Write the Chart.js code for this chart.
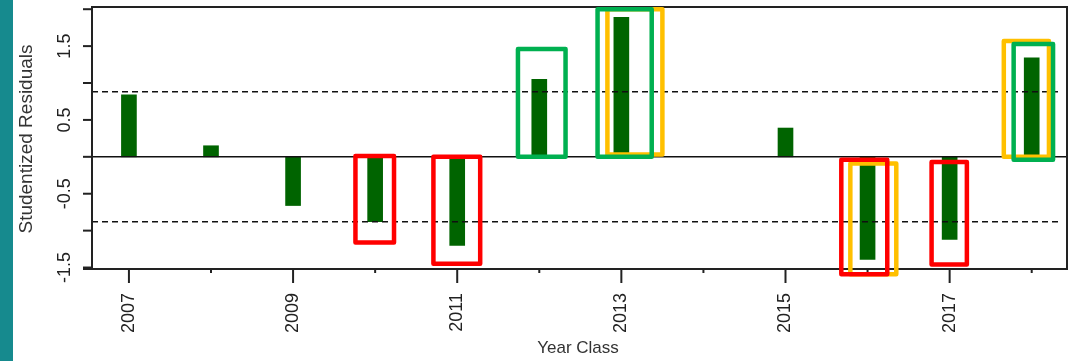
<!DOCTYPE html>
<html>
<head>
<meta charset="utf-8">
<script src="https://cdn.jsdelivr.net/npm/chart.js@4/dist/chart.umd.min.js"></script>
<style>
  body { margin: 0; background: #fff; }
  #strip { position: absolute; left: 0; top: 0; width: 13px; height: 361px; background: #168a8e; }
  canvas { position: absolute; left: 0; top: 0; }
</style>
</head>
<body>
<div id="strip"></div>
<canvas id="chart" width="1076" height="361"></canvas>
<script>
// year classes and studentized residuals
const years = [2007, 2008, 2009, 2010, 2011, 2012, 2013, 2014, 2015, 2016, 2017, 2018];
const residuals = [0.84, 0.15, -0.66, -0.88, -1.20, 1.05, 1.89, null, 0.39, -1.39, -1.12, 1.34];

// y axis tick marks and which of them get a label
const yTicks = [-1.5, -1, -0.5, 0, 0.5, 1, 1.5, 2];
const yLabels = [-1.5, -0.5, 0.5, 1.5];
const xLabels = [2007, 2009, 2011, 2013, 2015, 2017];

// dashed reference lines
const limits = [0.88, -0.88];

// highlight boxes: [xFrom, xTo, yTop, yBottom] in data units
const orangeBoxes = [[2012.83, 2013.5, 2.0, 0.03], [2015.79, 2016.35, -0.09, -1.59], [2017.66, 2018.21, 1.57, 0]];
const greenBoxes = [[2011.74, 2012.32, 1.46, 0], [2012.71, 2013.37, 2.0, 0], [2017.78, 2018.26, 1.53, -0.04]];
const redBoxes = [[2009.76, 2010.23, 0.01, -1.16], [2010.71, 2011.28, 0, -1.45], [2015.68, 2016.24, -0.04, -1.59], [2016.78, 2017.21, -0.07, -1.46]];

const axisPlugin = {
  id: 'axisPlugin',
  afterDatasetsDraw(chart) {
    const { ctx, chartArea: a, scales: { x, y } } = chart;
    ctx.save();

    // zero line
    ctx.strokeStyle = '#111';
    ctx.lineWidth = 1.5;
    ctx.beginPath();
    ctx.moveTo(a.left, y.getPixelForValue(0));
    ctx.lineTo(a.right, y.getPixelForValue(0));
    ctx.stroke();

    // dashed limits
    ctx.setLineDash([6, 4]);
    limits.forEach(v => {
      const py = y.getPixelForValue(v);
      ctx.beginPath();
      ctx.moveTo(a.left, py);
      ctx.lineTo(a.right - 8, py);
      ctx.stroke();
    });
    ctx.setLineDash([]);

    // frame
    ctx.strokeStyle = '#222';
    ctx.lineWidth = 2;
    ctx.beginPath();
    ctx.moveTo(a.left - 9, a.bottom);
    ctx.lineTo(a.right, a.bottom);
    ctx.lineTo(a.right, a.top);
    ctx.lineTo(a.left, a.top);
    ctx.lineTo(a.left, a.bottom);
    ctx.stroke();

    // y ticks + labels
    ctx.fillStyle = '#222';
    ctx.font = '18px "Liberation Sans", Arial, sans-serif';
    ctx.textAlign = 'center';
    ctx.textBaseline = 'middle';
    yTicks.forEach(v => {
      const py = y.getPixelForValue(v);
      ctx.beginPath();
      ctx.moveTo(a.left - 9, py);
      ctx.lineTo(a.left, py);
      ctx.stroke();
      if (yLabels.includes(v)) {
        ctx.save();
        ctx.translate(65, py);
        ctx.rotate(-Math.PI / 2);
        ctx.fillText(String(v), 0, 0);
        ctx.restore();
      }
    });

    // x ticks + labels
    years.forEach(yr => {
      const px = x.getPixelForValue(yr);
      const major = xLabels.includes(yr);
      ctx.beginPath();
      ctx.moveTo(px, a.bottom);
      ctx.lineTo(px, a.bottom + (major ? 14 : 4));
      ctx.stroke();
      if (major) {
        ctx.save();
        ctx.translate(px, a.bottom + 24);
        ctx.rotate(-Math.PI / 2);
        ctx.textAlign = 'right';
        ctx.fillText(String(yr), 0, 0);
        ctx.restore();
      }
    });

    // axis titles
    ctx.fillStyle = '#333';
    ctx.font = '19px "Liberation Sans", Arial, sans-serif';
    ctx.save();
    ctx.translate(27, 139);
    ctx.rotate(-Math.PI / 2);
    ctx.fillText('Studentized Residuals', 0, 0);
    ctx.restore();
    ctx.font = '17px "Liberation Sans", Arial, sans-serif';
    ctx.fillText('Year Class', 578, 348);

    // highlight boxes
    const drawBoxes = (list, color) => {
      ctx.strokeStyle = color;
      ctx.lineWidth = 4.5;
      ctx.lineJoin = 'round';
      list.forEach(b => {
        const x0 = x.getPixelForValue(b[0]);
        const x1 = x.getPixelForValue(b[1]);
        const y0 = y.getPixelForValue(b[2]);
        const y1 = y.getPixelForValue(b[3]);
        ctx.strokeRect(x0, y0, x1 - x0, y1 - y0);
      });
    };
    drawBoxes(orangeBoxes, '#ffc000');
    drawBoxes(greenBoxes, '#00b050');
    drawBoxes(redBoxes, '#ff0000');

    ctx.restore();
  }
};

new Chart(document.getElementById('chart'), {
  type: 'bar',
  data: {
    datasets: [{
      data: years.map((yr, i) => ({ x: yr, y: residuals[i] })),
      backgroundColor: '#006400',
      borderWidth: 0,
      barThickness: 15
    }]
  },
  options: {
    responsive: false,
    animation: false,
    layout: { padding: { left: 92, top: 7, right: 9, bottom: 92 } },
    plugins: { legend: { display: false }, tooltip: { enabled: false } },
    scales: {
      x: { type: 'linear', min: 2006.55, max: 2018.43, offset: false, display: false },
      y: { min: -1.52, max: 2.03, display: false }
    }
  },
  plugins: [axisPlugin]
});
</script>
</body>
</html>
